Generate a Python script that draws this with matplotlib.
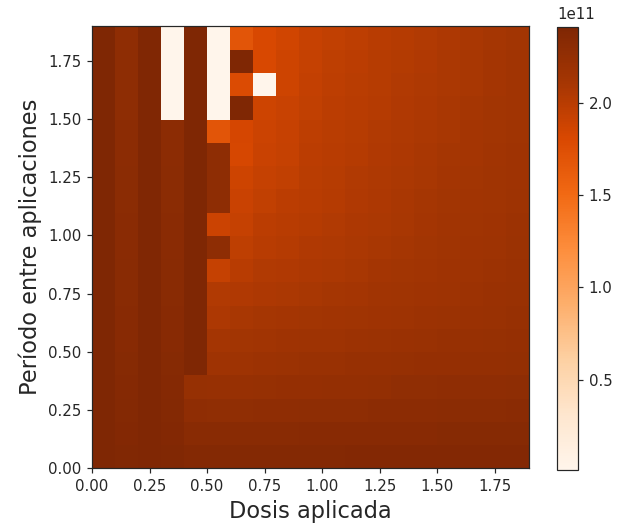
import numpy as np
import matplotlib
matplotlib.use("Agg")
import matplotlib.pyplot as plt

# Dose (x) and period between applications (y): lower edge of each cell
dose = [0.0, 0.1, 0.2, 0.3, 0.4, 0.5, 0.6, 0.7, 0.8, 0.9,
        1.0, 1.1, 1.2, 1.3, 1.4, 1.5, 1.6, 1.7, 1.8]
period = [0.0, 0.1, 0.2, 0.3, 0.4, 0.5, 0.6, 0.7, 0.8, 0.9,
          1.0, 1.1, 1.2, 1.3, 1.4, 1.5, 1.6, 1.7, 1.8]
step = 0.1

# Result per (period, dose), in units of 1e11; rows go from period 0.0 upward
result_e11 = [
    [2.41, 2.39, 2.40, 2.39, 2.37, 2.37, 2.37, 2.37, 2.37, 2.37, 2.37, 2.38, 2.38, 2.38, 2.38, 2.38, 2.38, 2.38, 2.38],
    [2.41, 2.38, 2.40, 2.38, 2.33, 2.33, 2.33, 2.33, 2.33, 2.34, 2.34, 2.34, 2.34, 2.34, 2.34, 2.35, 2.35, 2.35, 2.35],
    [2.41, 2.37, 2.40, 2.37, 2.28, 2.27, 2.27, 2.28, 2.28, 2.29, 2.29, 2.29, 2.30, 2.30, 2.30, 2.31, 2.31, 2.31, 2.32],
    [2.41, 2.36, 2.40, 2.36, 2.23, 2.22, 2.22, 2.23, 2.24, 2.24, 2.25, 2.25, 2.26, 2.27, 2.27, 2.28, 2.28, 2.28, 2.29],
    [2.41, 2.35, 2.40, 2.35, 2.41, 2.16, 2.17, 2.18, 2.19, 2.21, 2.21, 2.22, 2.22, 2.23, 2.24, 2.24, 2.25, 2.25, 2.26],
    [2.41, 2.34, 2.40, 2.34, 2.41, 2.12, 2.13, 2.14, 2.16, 2.17, 2.17, 2.18, 2.19, 2.20, 2.21, 2.22, 2.22, 2.23, 2.24],
    [2.41, 2.34, 2.40, 2.34, 2.41, 2.07, 2.10, 2.11, 2.12, 2.13, 2.14, 2.15, 2.16, 2.17, 2.18, 2.19, 2.20, 2.21, 2.22],
    [2.41, 2.33, 2.40, 2.33, 2.41, 2.04, 2.05, 2.07, 2.08, 2.10, 2.11, 2.12, 2.14, 2.15, 2.16, 2.17, 2.18, 2.20, 2.21],
    [2.41, 2.33, 2.40, 2.33, 2.41, 1.93, 2.00, 2.04, 2.05, 2.07, 2.08, 2.10, 2.12, 2.13, 2.14, 2.16, 2.17, 2.18, 2.20],
    [2.41, 2.32, 2.40, 2.32, 2.41, 2.29, 1.96, 2.00, 2.02, 2.05, 2.06, 2.08, 2.10, 2.11, 2.13, 2.15, 2.16, 2.17, 2.19],
    [2.41, 2.32, 2.40, 2.32, 2.41, 1.89, 1.93, 1.98, 2.00, 2.02, 2.04, 2.07, 2.08, 2.10, 2.12, 2.14, 2.15, 2.16, 2.18],
    [2.41, 2.31, 2.40, 2.31, 2.41, 2.29, 1.90, 1.95, 1.98, 2.00, 2.02, 2.05, 2.07, 2.09, 2.11, 2.13, 2.14, 2.15, 2.17],
    [2.41, 2.31, 2.40, 2.31, 2.41, 2.29, 1.88, 1.93, 1.95, 1.99, 2.01, 2.04, 2.06, 2.08, 2.10, 2.12, 2.13, 2.15, 2.16],
    [2.41, 2.30, 2.40, 2.30, 2.41, 2.29, 1.82, 1.90, 1.93, 1.98, 2.00, 2.02, 2.05, 2.07, 2.09, 2.11, 2.12, 2.14, 2.16],
    [2.41, 2.30, 2.40, 2.30, 2.41, 1.69, 1.83, 1.89, 1.92, 1.97, 1.99, 2.01, 2.04, 2.06, 2.08, 2.10, 2.12, 2.13, 2.15],
    [2.41, 2.29, 2.40, 0.01, 2.41, 0.01, 2.41, 1.88, 1.91, 1.95, 1.98, 2.00, 2.02, 2.05, 2.07, 2.09, 2.11, 2.13, 2.14],
    [2.41, 2.29, 2.40, 0.01, 2.41, 0.01, 1.78, 0.01, 1.88, 1.94, 1.97, 1.99, 2.01, 2.04, 2.06, 2.08, 2.10, 2.12, 2.14],
    [2.41, 2.29, 2.40, 0.01, 2.41, 0.01, 2.41, 1.81, 1.88, 1.93, 1.96, 1.98, 2.01, 2.03, 2.05, 2.08, 2.10, 2.12, 2.14],
    [2.41, 2.28, 2.40, 0.01, 2.41, 0.01, 1.69, 1.81, 1.86, 1.92, 1.95, 1.97, 2.00, 2.02, 2.04, 2.07, 2.09, 2.11, 2.13],
]

text_color = "#262626"
plt.rcParams["text.color"] = text_color
plt.rcParams["axes.labelcolor"] = text_color
plt.rcParams["xtick.color"] = text_color
plt.rcParams["ytick.color"] = text_color
plt.rcParams["axes.edgecolor"] = "#262626"

dpi = 108
fig = plt.figure(figsize=(618 / dpi, 531 / dpi), dpi=dpi)
ax = fig.add_axes([0.1489, 0.1186, 0.7071, 0.8324])
cax = fig.add_axes([0.9013, 0.1149, 0.034, 0.834])

x_edges = np.append(dose, dose[-1] + step)
y_edges = np.append(period, period[-1] + step)
z = np.array(result_e11) * 1e11

mesh = ax.pcolor(x_edges, y_edges, z, cmap="Oranges")
ax.set_xlim(x_edges[0], x_edges[-1])
ax.set_ylim(y_edges[0], y_edges[-1])
ax.set_xticks([0.0, 0.25, 0.5, 0.75, 1.0, 1.25, 1.5, 1.75])
ax.set_yticks([0.0, 0.25, 0.5, 0.75, 1.0, 1.25, 1.5, 1.75])
ax.xaxis.set_major_formatter(matplotlib.ticker.FormatStrFormatter("%.2f"))
ax.yaxis.set_major_formatter(matplotlib.ticker.FormatStrFormatter("%.2f"))
ax.tick_params(labelsize=10)
ax.set_xlabel("Dosis aplicada", fontsize=15)
ax.set_ylabel("Período entre aplicaciones", fontsize=15)

cb = fig.colorbar(mesh, cax=cax)
cb.ax.tick_params(labelsize=10)
# scale factor label sits above the colorbar, starting at its left edge
cb.ax.yaxis.get_offset_text().set_visible(False)
cax.text(0.0, 1.012, "1e11", transform=cax.transAxes, ha="left", va="bottom",
         fontsize=10, color=text_color)

fig.savefig("out.png", dpi=dpi)
